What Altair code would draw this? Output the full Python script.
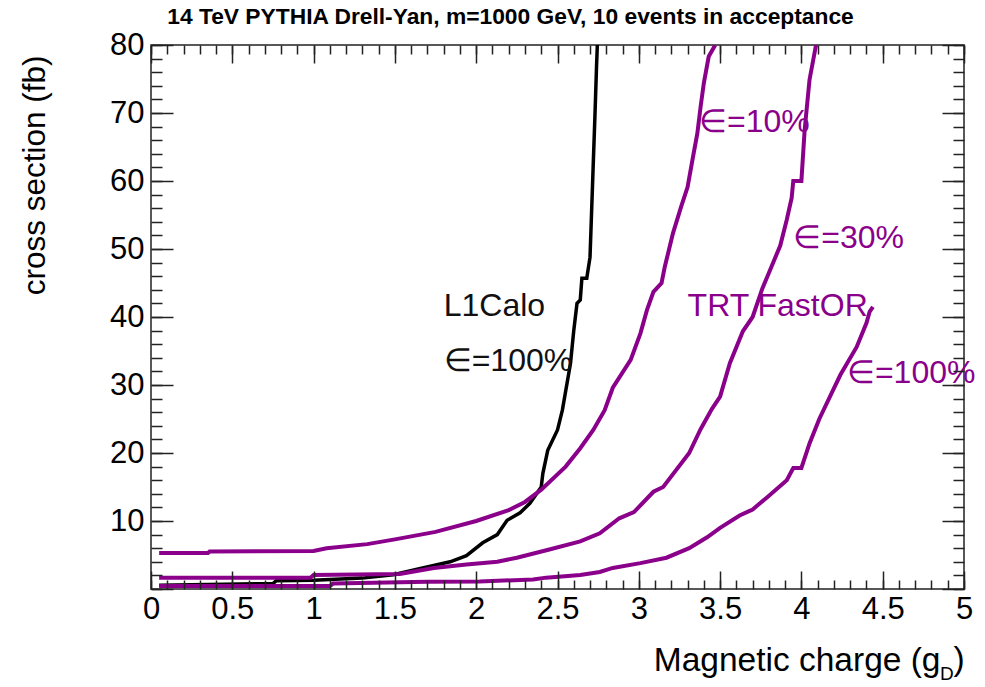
import altair as alt
import pandas as pd

# ---------------- data ----------------
l1_x = [0.05, 0.75, 0.77, 1.0, 1.3, 1.49, 1.65, 1.84, 1.94, 2.04, 2.13, 2.19, 2.27, 2.33,
        2.40, 2.41, 2.44, 2.50, 2.53, 2.58, 2.60, 2.62, 2.64, 2.65, 2.68, 2.70, 2.71, 2.72,
        2.73, 2.74, 2.745]
l1_y = [0.55, 0.8, 1.2, 1.3, 1.6, 2.1, 3.0, 4.0, 4.9, 6.8, 8.0, 10.1, 11.2, 12.6,
        15.0, 17.0, 20.4, 23.4, 26.3, 33.2, 38.0, 42.0, 42.5, 45.7, 45.7, 48.8, 55.7, 62.6,
        69.4, 76.8, 80.0]

e10_x = [0.05, 0.35, 0.36, 1.0, 1.08, 1.33, 1.5, 1.75, 2.0, 2.2, 2.3, 2.4, 2.55, 2.64, 2.72,
         2.79, 2.84, 2.95, 3.01, 3.05, 3.09, 3.14, 3.16, 3.21, 3.26, 3.30, 3.33, 3.36, 3.38,
         3.40, 3.43, 3.47]
e10_y = [5.3, 5.3, 5.5, 5.6, 6.0, 6.6, 7.3, 8.4, 10.0, 11.6, 12.8, 14.6, 18.0, 20.7, 23.4,
         26.3, 29.6, 33.7, 37.6, 41.0, 43.7, 45.0, 47.4, 52.3, 56.2, 59.1, 63.1, 67.0, 70.9,
         74.4, 78.3, 80.0]

e30_x = [0.05, 0.98, 1.0, 1.53, 1.74, 1.94, 2.13, 2.25, 2.45, 2.64, 2.76, 2.88, 2.97, 3.09,
         3.15, 3.31, 3.38, 3.45, 3.50, 3.56, 3.64, 3.70, 3.76, 3.87, 3.91, 3.94, 3.95, 4.00,
         4.02, 4.05, 4.09]
e30_y = [1.66, 1.66, 2.06, 2.2, 3.1, 3.6, 4.0, 4.6, 5.8, 7.0, 8.2, 10.4, 11.3, 14.3,
         15.0, 20.0, 23.5, 26.5, 28.3, 33.2, 37.9, 40.0, 44.2, 50.5, 54.3, 57.5, 60.0, 60.0,
         67.5, 74.9, 80.0]

e100_x = [0.05, 1.10, 1.12, 1.70, 2.02, 2.35, 2.43, 2.64, 2.76, 2.84, 3.01, 3.17, 3.31, 3.42,
          3.50, 3.62, 3.70, 3.79, 3.91, 3.95, 4.00, 4.05, 4.11, 4.18, 4.24, 4.34, 4.40, 4.42,
          4.44]
e100_y = [0.44, 0.44, 0.8, 1.07, 1.1, 1.4, 1.67, 2.06, 2.5, 3.1, 3.8, 4.6, 6.0, 7.6,
          9.0, 10.8, 11.7, 13.5, 16.0, 17.8, 17.8, 21.4, 25.0, 28.5, 31.5, 35.6, 39.1, 40.8,
          41.5]

label_text = ["L1Calo", "\u2208=100%", "\u2208=10%", "\u2208=30%", "TRT FastOR", "\u2208=100%"]
label_x = [1.80, 1.80, 3.37, 3.95, 3.30, 4.28]
label_y = [40.1, 32.0, 67.2, 50.1, 40.1, 30.3]
label_grp = ["calo", "calo", "trt", "trt", "trt", "trt"]

title_text = "14 TeV PYTHIA Drell-Yan, m=1000 GeV, 10 events in acceptance"
x_title = "Magnetic charge (g"
y_title = "cross section (fb)"

# ---------------- tables ----------------
def curve(name, xs, ys):
    return pd.DataFrame({"series": name, "x": xs, "y": ys, "idx": range(len(xs))})

black_df = curve("L1Calo", l1_x, l1_y)
purple_df = pd.concat([curve("e10", e10_x, e10_y), curve("e30", e30_x, e30_y),
                       curve("e100", e100_x, e100_y)], ignore_index=True)
labels_df = pd.DataFrame({"text": label_text, "x": label_x, "y": label_y, "grp": label_grp})
sub_df = pd.DataFrame({"text": ["D"], "x": [4.852], "y": [-13.4]})
par_df = pd.DataFrame({"text": [")"], "x": [4.935], "y": [-11.9]})

W, H = 813, 544
FONT = "Liberation Sans"
PURPLE = "#8b008b"
FRAME = "#222222"

xs = alt.Scale(domain=[0, 5], nice=False, zero=False)
ys = alt.Scale(domain=[0, 80], nice=False, zero=False)

x_major = [i * 0.5 for i in range(11)]
x_minor = [round(i * 0.1, 1) for i in range(51)]
y_major = list(range(0, 81, 10))
y_minor = list(range(0, 81, 2))


def tick_axis(orient, offset, values, size):
    return alt.Axis(orient=orient, offset=offset, values=values, tickSize=size,
                    labels=False, domain=False, grid=False, title=None, ticks=True,
                    tickColor=FRAME, tickWidth=1.5, zindex=1)


x_label_axis = alt.Axis(orient="bottom", values=x_major, format="~g", ticks=False,
                        domain=False, grid=False, labelFont=FONT, labelFontSize=31,
                        labelPadding=5, labelFlush=False, labelOverlap=False,
                        labelColor="black", title=x_title, titleFont=FONT,
                        titleFontSize=33.5, titleFontWeight="normal", titleColor="black",
                        titleX=789, titleY=81, titleAlign="right",
                        titleBaseline="alphabetic", titleAngle=0)
y_label_axis = alt.Axis(orient="left", values=y_major[1:], format="d", ticks=False,
                        domain=False, grid=False, labelFont=FONT, labelFontSize=31,
                        labelPadding=7, labelOverlap=False, labelColor="black",
                        labelBaseline="middle", title=y_title, titleFont=FONT,
                        titleFontSize=31.5, titleFontWeight="normal", titleColor="black",
                        titleX=-107, titleY=10, titleAlign="right",
                        titleBaseline="alphabetic", titleAngle=270)

black_line = alt.Chart(black_df).mark_line(clip=True, color="black", strokeWidth=3.5).encode(
    x=alt.X("x:Q", scale=xs, axis=x_label_axis),
    y=alt.Y("y:Q", scale=ys, axis=y_label_axis),
    order="idx:Q",
)

purple_lines = alt.Chart(purple_df).mark_line(clip=True, color=PURPLE, strokeWidth=4).encode(
    x=alt.X("x:Q", scale=xs, axis=tick_axis("top", -H, x_major, 18)),
    y=alt.Y("y:Q", scale=ys, axis=tick_axis("right", -W, y_major, 22)),
    detail="series:N",
    order="idx:Q",
)


def ghost(xa, ya):
    return alt.Chart(black_df).mark_point(opacity=0).encode(
        x=alt.X("x:Q", scale=xs, axis=xa),
        y=alt.Y("y:Q", scale=ys, axis=ya),
    )


g1 = ghost(tick_axis("top", -H, x_minor, 9), tick_axis("right", -W, y_minor, 11))
g2 = ghost(tick_axis("bottom", -H, x_major, 18), tick_axis("left", -W, y_major, 22))
g3 = ghost(tick_axis("bottom", -H, x_minor, 9), tick_axis("left", -W, y_minor, 11))

labels = alt.Chart(labels_df).mark_text(font=FONT, fontSize=32, align="left",
                                        baseline="alphabetic").encode(
    x=alt.X("x:Q", scale=xs, axis=None),
    y=alt.Y("y:Q", scale=ys, axis=None),
    text="text:N",
    color=alt.Color("grp:N", scale=alt.Scale(domain=["calo", "trt"],
                                              range=["#111111", PURPLE]), legend=None),
)

sub = alt.Chart(sub_df).mark_text(font=FONT, fontSize=19, align="left",
                                  baseline="alphabetic", color="black").encode(
    x=alt.X("x:Q", scale=xs, axis=None),
    y=alt.Y("y:Q", scale=ys, axis=None),
    text="text:N",
)
par = alt.Chart(par_df).mark_text(font=FONT, fontSize=33.5, align="left",
                                  baseline="alphabetic", color="black").encode(
    x=alt.X("x:Q", scale=xs, axis=None),
    y=alt.Y("y:Q", scale=ys, axis=None),
    text="text:N",
)

chart = alt.layer(black_line, purple_lines, g1, g2, g3, labels, sub, par).resolve_axis(
    x="independent", y="independent"
).properties(
    width=W, height=H,
    title=alt.TitleParams(text=title_text, font=FONT, fontSize=22.8, fontWeight="bold",
                          color="black", anchor="middle", frame="group", dx=-47,
                          dy=22, offset=4, baseline="alphabetic"),
    autosize=alt.AutoSizeParams(type="none"),
    padding={"left": 151, "top": 45, "right": 21, "bottom": 98},
    background="white",
).configure_view(stroke=FRAME, strokeWidth=1.5)

chart.save("out.html", embed_options={"renderer": "svg", "actions": False})
